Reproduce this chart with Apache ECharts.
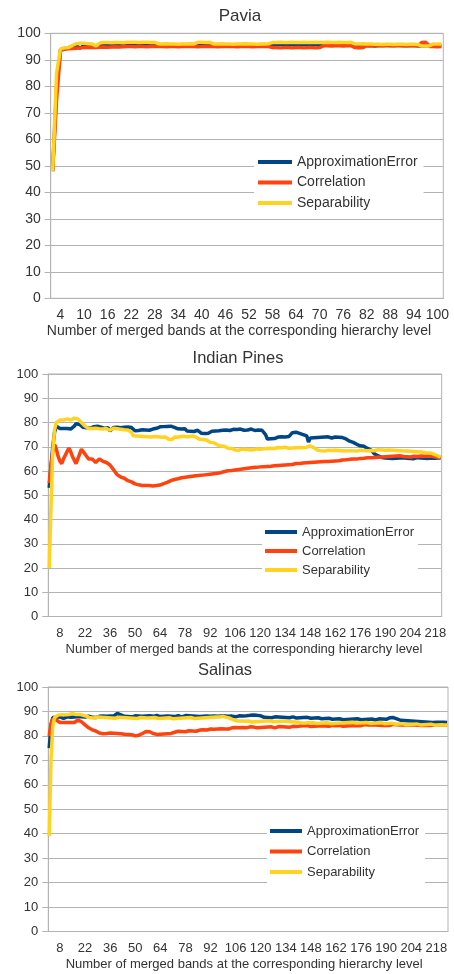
<!DOCTYPE html>
<html>
<head>
<meta charset="utf-8">
<script src="https://cdn.jsdelivr.net/npm/echarts@6/dist/echarts.min.js"></script>
<style>
    html, body { margin: 0; padding: 0; background: #fff; }
    #main { width: 454px; height: 974px; }
</style>
</head>
<body>
<div id="main"></div>
<script>
// category helper: band counts 2..n
function range(a, b) {
    var r = [];
    for (var i = a; i <= b; i++) r.push(String(i));
    return r;
}

var seriesNames = ['ApproximationError', 'Correlation', 'Separability'];
var colors = ['#004586', '#ff420e', '#ffd320'];
var axisName = 'Number of merged bands at the corresponding hierarchy level';

// ---------- Pavia (bands 2..101) ----------
var pavCats = range(2, 101);
var pavTicks = [4, 10, 16, 22, 28, 34, 40, 46, 52, 58, 64, 70, 76, 82, 88, 94, 100];
var pavAE = [
    48, 80, 93.8, 94.3, 94.6, 95.0, 95.3, 94.4, 95.4, 95.5,
    95.6, 95.2, 95.7, 95.8, 95.8, 95.7, 95.9, 95.8, 95.9, 96.0,
    95.9, 96.0, 95.9, 96.0, 95.8, 95.7, 95.6, 95.6, 95.5, 95.6,
    95.6, 95.5, 95.6, 95.5, 95.6, 95.5, 95.6, 95.9, 96.0, 96.0,
    95.9, 95.6, 95.6, 95.5, 95.6, 95.5, 95.6, 95.5, 95.6, 95.5,
    95.6, 95.5, 95.6, 95.5, 95.6, 95.5, 95.9, 96.0, 95.9, 96.0,
    95.9, 96.0, 95.9, 96.0, 95.9, 96.0, 95.9, 96.0, 95.9, 96.0,
    95.9, 96.0, 95.9, 96.0, 95.9, 96.0, 95.8, 95.6, 95.5, 95.4,
    95.4, 95.5, 95.2, 95.4, 95.5, 95.5, 95.4, 95.5, 95.5, 95.4,
    95.5, 95.4, 95.5, 95.3, 95.2, 95.3, 95.4, 95.5, 95.4, 95.3
];
var pavCorr = [
    48, 75, 93.5, 94.0, 94.2, 94.3, 94.4, 94.5, 94.6, 94.6,
    94.7, 94.6, 94.7, 94.8, 94.7, 94.8, 94.9, 94.8, 94.9, 95.0,
    95.0, 94.9, 95.0, 95.0, 94.9, 95.0, 95.0, 95.1, 95.0, 94.9,
    95.0, 95.0, 94.9, 95.0, 95.1, 95.0, 95.0, 94.9, 95.0, 95.0,
    95.1, 95.0, 94.9, 95.0, 95.0, 95.1, 95.0, 94.9, 95.0, 95.0,
    95.0, 94.9, 95.0, 95.1, 95.0, 95.0, 94.6, 94.6, 94.5, 94.6,
    94.6, 94.5, 94.6, 94.6, 94.5, 94.6, 94.6, 94.5, 94.6, 95.3,
    95.3, 95.2, 95.3, 95.3, 95.2, 95.3, 95.3, 94.6, 94.5, 94.6,
    95.3, 95.2, 95.3, 95.3, 95.2, 95.3, 95.3, 95.2, 95.3, 95.3,
    95.2, 95.3, 95.3, 95.2, 96.5, 96.6, 95.0, 95.0, 94.9, 95.0
];
var pavSep = [
    48, 85, 94.2, 94.5, 94.6, 95.4, 96.1, 96.2, 96.2, 96.1,
    96.0, 95.2, 96.3, 96.5, 96.5, 96.4, 96.5, 96.5, 96.4, 96.6,
    96.6, 96.6, 96.5, 96.6, 96.6, 96.5, 96.6, 96.0, 96.0, 96.1,
    96.0, 96.0, 95.9, 96.0, 96.0, 96.1, 96.0, 96.6, 96.6, 96.5,
    96.6, 96.0, 96.0, 96.1, 96.0, 96.0, 95.9, 96.0, 96.0, 96.1,
    96.0, 96.0, 95.9, 96.0, 96.0, 96.1, 96.5, 96.5, 96.6, 96.5,
    96.5, 96.6, 96.5, 96.5, 96.6, 96.5, 96.5, 96.6, 96.5, 96.5,
    96.6, 96.5, 96.5, 96.6, 96.5, 96.5, 96.6, 96.0, 96.0, 96.1,
    96.0, 96.0, 95.9, 95.9, 95.8, 95.9, 95.9, 95.8, 95.9, 95.9,
    95.8, 95.9, 95.9, 95.8, 95.2, 95.2, 95.3, 96.0, 96.0, 96.0
];

// ---------- Indian Pines (bands 2..221) ----------
var ipCats = range(2, 221);
var ipTicks = [8, 22, 36, 50, 64, 78, 92, 106, 120, 134, 148, 162, 176, 190, 204, 218];
var ipAE = [
    53, 62, 70, 76, 78.5, 78, 77.5, 78, 77.5, 77,
    77.5, 77.8, 77.3, 77.5, 78.5, 79.5, 79.8, 79.2, 78.5, 78,
    78.2, 77.8, 78.4, 77.6, 78, 78.3, 77.9, 78.5, 77.7, 78.1,
    78, 77.6, 78.2, 77.8, 76.5, 77.2, 77.9, 78.3, 78, 78.4,
    77.8, 78.2, 78, 77.7, 78.1, 78.3, 77.9, 77.5, 76.6, 76.4,
    76.7, 76.5, 77, 77.2, 76.9, 77.1, 76.8, 77, 77.3, 77.5,
    77.6, 77.4, 78.2, 78.5, 78.3, 78.6, 78.4, 78.2, 78.5, 78.3,
    78, 77.6, 77.4, 77.5, 77.3, 77.6, 77.4, 76.5, 76.7, 76.4,
    76.6, 76.3, 76.5, 76.8, 76.4, 75.6, 75.4, 75.5, 75.3, 75.6,
    75.5, 76.4, 76.7, 76.5, 76.9, 76.6, 77, 76.8, 76.5, 76.9,
    77, 76.7, 76.9, 77.2, 76.8, 77.1, 76.9, 77.3, 77, 76.8,
    77.2, 76.9, 77.1, 77.3, 77, 76.7, 77.1, 76.9, 77.2, 76.8,
    76.5, 75, 73.2, 73, 73.3, 73.6, 73.4, 73.8, 74, 73.7,
    74.1, 74.3, 74, 74.5, 74.2, 74.6, 75.8, 76.1, 76, 75.6,
    75.5, 75.2, 75, 74.8, 74.5, 72, 73.6, 73.9, 73.7, 74,
    73.8, 74.1, 73.9, 73.7, 74, 73.8, 74.1, 73.9, 73.6, 73.8,
    74, 73.7, 73.9, 73.6, 73.8, 73.5, 73.2, 72.5, 72.3, 72.1,
    71.8, 71.5, 71, 70.6, 70.4, 70.5, 70.2, 69.8, 69.3, 69,
    68.6, 67.8, 67, 66.5, 66.3, 65.8, 65.6, 65.9, 65.4, 65.7,
    65.3, 65.6, 65.2, 65.5, 65.3, 65.1, 65.4, 65.2, 65.5, 65.1,
    65.3, 65.6, 65.2, 65.4, 65.1, 65.3, 65.5, 65.2, 65.4, 65.6,
    65.3, 65.5, 65.2, 65.6, 65.4, 65.5, 65.3, 65.6, 65.5, 65.4
];
var ipCorr = [
    55, 62, 68, 71, 69, 66, 64, 63, 65, 66.5,
    68, 69.5, 68, 66, 64.5, 63, 63.5, 67, 69, 68,
    67, 66, 65, 65.5, 65, 64.5, 63.5, 64, 65, 64.5,
    64, 63.8, 63.5, 63, 62.5, 61.5, 60.5, 59.5, 58.5, 58,
    57.5, 57.2, 57, 56.5, 56, 55.7, 55.5, 55, 54.7, 54.5,
    54.3, 54.2, 54, 54.2, 54, 53.8, 54, 54.3, 53.8, 53.6,
    54, 53.8, 54.2, 54.5, 54.8, 55, 55.3, 55.6, 56, 56.2,
    56.5, 56.7, 56.8, 57, 57.2, 57.1, 57.4, 57.3, 57.6, 57.5,
    57.8, 57.7, 58, 57.9, 58.2, 58.4, 58.3, 58.6, 58.5, 58.8,
    58.7, 59, 58.9, 59.2, 59.1, 59.4, 59.3, 59.6, 59.8, 60,
    60.1, 60.3, 60.2, 60.5, 60.4, 60.7, 60.6, 60.9, 60.8, 61.1,
    61, 61.3, 61.2, 61.5, 61.4, 61.6, 61.5, 61.8, 61.7, 61.9,
    61.8, 62, 61.9, 62.1, 62, 62.3, 62.2, 62.4, 62.3, 62.5,
    62.4, 62.6, 62.5, 62.7, 62.6, 62.8, 62.7, 62.9, 63.1, 62.9,
    63.1, 63, 63.3, 63.2, 63.4, 63.3, 63.5, 63.4, 63.6, 63.5,
    63.7, 63.6, 63.8, 63.7, 63.9, 64, 63.9, 64.1, 64, 64.2,
    64.1, 64.3, 64.2, 64.4, 64.5, 64.4, 64.6, 64.5, 64.8, 64.7,
    64.9, 65, 64.9, 65.1, 65.2, 65.1, 65.3, 65.4, 65.5, 65.6,
    65.5, 65.7, 65.6, 65.8, 65.7, 65.9, 65.8, 66, 65.9, 66.1,
    66, 66.2, 66.1, 66.3, 66.2, 66.1, 66.3, 66.2, 66, 66.1,
    65.9, 66, 65.8, 65.9, 66.1, 65.8, 66, 65.9, 66.2, 66,
    66.1, 65.9, 66.2, 66.4, 66.1, 66.3, 65.8, 66, 65.7, 65.5
];
var ipSep = [
    20, 45, 68, 77, 80, 80.5, 81, 81.2, 81, 81.3,
    81.5, 81.2, 81, 81.3, 81.8, 82, 81.5, 81, 80, 79.5,
    78.5, 78, 77.5, 77.3, 77.5, 77.2, 77.6, 77, 77.4, 77.8,
    77.3, 77, 77.5, 77.2, 76.8, 77.3, 77.6, 77.1, 77.4, 77.7,
    77.2, 77.5, 77, 77.3, 76.9, 77.2, 76, 74.5, 74.2, 74.4,
    74.1, 74.3, 74, 74.2, 74.5, 74.1, 74.3, 74, 74.4, 74.2,
    74.5, 74.1, 74.3, 73.9, 74.2, 74, 74.3, 73, 72.8, 73.1,
    74, 74.2, 73.9, 74.1, 74.3, 74.5, 74.2, 74.4, 74.1, 74.3,
    74.5, 74.2, 74, 73.3, 73.1, 73.4, 73, 73.2, 72.8, 72.1,
    71.8, 72, 71.7, 72, 70.8, 70.5, 70.3, 70.6, 70.2, 69.6,
    69.4, 69.5, 69.3, 68.9, 68.7, 68.9, 68.6, 68.8, 69, 68.7,
    68.9, 68.6, 68.8, 69, 68.7, 68.9, 69.1, 68.8, 69, 68.9,
    69.2, 69, 69.3, 69.5, 69.4, 69.6, 69.3, 69.5, 69.7, 69.4,
    69.6, 69.5, 69.8, 69.6, 69.4, 69.7, 69.5, 69.8, 69.6, 69.4,
    69.7, 69.5, 69.6, 69.4, 69.8, 70.2, 70.4, 70.1, 69.6, 69.3,
    68.6, 68.2, 68.3, 68.5, 68.2, 68.4, 68.6, 68.3, 68.5, 68.4,
    68.6, 68.3, 68.5, 68.7, 68.4, 68.6, 68.3, 68.5, 68.4, 68.6,
    68.3, 68.5, 68.2, 68.4, 68.6, 68.3, 68.5, 68.7, 68.4, 68.6,
    68.5, 68.7, 68.4, 68.6, 68.8, 68.5, 68.7, 68.4, 68.6, 68.5,
    68.7, 68.4, 68.6, 68.3, 68.5, 68.2, 68.4, 68.1, 68.3, 68,
    68.2, 67.9, 68.1, 67.8, 68, 67.7, 67.9, 68.1, 67.8, 67.6,
    67.5, 67.2, 67.4, 67, 67.3, 66.8, 66.6, 66.3, 66, 65.8
];

// ---------- Salinas (bands 2..224) ----------
var saCats = range(2, 224);
var saTicks = [8, 22, 36, 50, 64, 78, 92, 106, 120, 134, 148, 162, 176, 190, 204, 218];
var saAE = [
    75, 84, 87.5, 88, 87.6, 87.3, 87.8, 87.5, 87.2, 87.6,
    87.8, 87.4, 87.6, 88, 87.7, 87.5, 87.9, 88.1, 87.8, 88,
    87.7, 87.9, 88.1, 87.8, 87.6, 87.3, 87.5, 87.8, 88, 87.9,
    88.1, 87.8, 88, 88.3, 88.1, 88.4, 88.2, 88.6, 89.2, 89,
    88.6, 88.2, 88, 88.3, 87.9, 88.1, 87.8, 88, 88.2, 87.9,
    88.1, 88.3, 88, 87.8, 88.1, 88.4, 88.2, 87.9, 88, 88.2,
    88.4, 88.1, 87.9, 88.2, 88, 88.3, 88.1, 87.8, 88, 88.2,
    87.9, 88.1, 88.3, 88, 87.8, 88.1, 88.3, 88, 88.2, 87.9,
    88.1, 88.3, 88, 88.2, 87.9, 88.1, 88, 88.3, 88.1, 87.9,
    88, 88.2, 88.1, 87.8, 88, 88.2, 88.1, 87.9, 88.1, 88.3,
    88, 87.9, 88.1, 88, 87.8, 88, 88.2, 87.9, 88.1, 88,
    88.2, 88.1, 88.4, 88.6, 88.5, 88.7, 88.4, 88.6, 88.2, 87.8,
    87.6, 87.8, 87.5, 87.7, 87.4, 87.6, 87.8, 87.5, 87.7, 87.4,
    87.6, 87.3, 87.5, 87.7, 87.4, 87.6, 87.8, 87.5, 87.3, 87.6,
    87.4, 87.7, 87.5, 87.3, 87.6, 87.4, 87.2, 87.5, 87.3, 87.1,
    87.4, 87.2, 87, 87.3, 87.1, 86.9, 87.2, 87, 86.8, 87.1,
    86.9, 86.7, 87, 86.8, 86.6, 86.9, 86.7, 87, 86.8, 86.6,
    86.9, 86.7, 87, 86.8, 86.6, 86.9, 86.7, 86.5, 86.8, 86.6,
    86.9, 86.7, 86.5, 86.8, 87, 86.7, 86.9, 86.6, 86.8, 87.1,
    87.4, 87.6, 87.5, 87.3, 87, 86.6, 86.4, 86.6, 86.3, 86.5,
    86.2, 86.4, 86.1, 86.3, 86, 86.2, 85.9, 86.1, 85.8, 86,
    85.7, 85.9, 85.6, 85.8, 85.5, 85.7, 85.6, 85.4, 85.6, 85.5,
    85.6, 85.4, 85.5
];
var saCorr = [
    80, 85, 87, 86.8, 86.5, 86, 85.5, 85.3, 85.5, 85.2,
    85.5, 85.8, 85.5, 85.2, 85.5, 86, 86.5, 86.3, 85.8, 85.3,
    84.5, 84, 83.3, 82.8, 82.5, 82.2, 82, 81.5, 81.2, 81.4,
    80.9, 81.3, 81, 80.8, 81.2, 81.5, 81.1, 80.8, 81, 81.3,
    80.9, 81.1, 80.7, 81, 80.6, 80.4, 80.5, 80.2, 80, 80.1,
    80.3, 80.6, 81, 81.5, 81.8, 82, 81.7, 81.3, 81, 80.8,
    80.6, 80.9, 80.7, 81, 80.8, 80.6, 80.9, 80.7, 81, 81.2,
    81.5, 81.7, 81.9, 81.6, 81.8, 82, 81.7, 81.9, 82.1, 81.8,
    82, 82.2, 81.9, 82.1, 82.4, 82.6, 82.5, 82.7, 82.4, 82.6,
    82.8, 82.6, 82.7, 82.5, 82.8, 82.6, 82.9, 82.7, 82.8, 83,
    82.8, 83.1, 83.3, 83.5, 83.4, 83.6, 83.3, 83.5, 83.4, 83.6,
    83.3, 83.5, 83.7, 83.4, 83.6, 83.5, 83.3, 83.6, 83.4, 83.7,
    83.5, 83.3, 83.6, 83.4, 83.7, 83.5, 83.3, 83.6, 83.8, 83.5,
    83.7, 83.4, 83.6, 83.8, 83.5, 83.7, 83.9, 83.6, 83.8, 83.7,
    84, 83.8, 84.1, 83.9, 84.2, 84, 83.8, 84.1, 83.9, 84.2,
    84, 83.8, 84.1, 84.3, 84, 84.2, 83.9, 84.1, 84.3, 84,
    84.2, 84, 84.3, 84.1, 83.9, 84.2, 84, 84.3, 84.1, 84.4,
    84.2, 84, 84.3, 84.5, 84.2, 84.4, 84.6, 84.3, 84.5, 84.4,
    84.6, 84.3, 84.5, 84.7, 84.4, 84.6, 84.3, 84.5, 84.4, 84.6,
    84.3, 84.5, 84.7, 84.4, 84.6, 84.3, 84.5, 84.4, 84.6, 84.3,
    84.5, 84.4, 84.6, 84.3, 84.5, 84.7, 84.4, 84.6, 84.3, 84.5,
    84.4, 84.6, 84.3, 84.5, 84.4, 84.6, 84.5, 84.3, 84.5, 84.4,
    84.6, 84.5, 84.4
];
var saSep = [
    39, 70, 84, 87.5, 88.3, 88.5, 88.4, 88.7, 88.5, 88.6,
    88.4, 88.7, 88.9, 89.2, 89, 88.7, 88.5, 88.8, 88.6, 88.4,
    88.2, 88, 87.6, 87.4, 87.6, 87.3, 87.5, 87.7, 87.4, 87.6,
    87.3, 87.5, 87.2, 87.4, 87.6, 87.3, 87.5, 87.2, 87.4, 87.6,
    87.3, 87.5, 87.2, 87.4, 87.1, 87.3, 87.5, 87.2, 87.4, 87.1,
    87.3, 87.5, 87.2, 87.4, 87.6, 87.3, 87.1, 87.4, 87.2, 87.5,
    87.3, 87.1, 87.4, 87.2, 87.5, 87.3, 87.1, 87.4, 87.2, 87,
    87.3, 87.1, 87.4, 87.2, 87, 87.3, 87.1, 87.4, 87.2, 87.5,
    87.3, 87.1, 87.4, 87.2, 87.5, 87.3, 87.1, 87.4, 87.2, 87.5,
    87.3, 87.6, 87.4, 87.7, 87.9, 87.7, 87.9, 88, 87.8, 87.6,
    87.4, 87.2, 86.8, 86.5, 86.3, 86.1, 85.9, 86.1, 85.8, 86,
    85.8, 86.1, 85.9, 85.7, 86, 85.8, 86.1, 85.9, 85.7, 86,
    85.8, 86.1, 85.9, 86.2, 86, 85.8, 86.1, 85.9, 86.2, 86,
    85.8, 86, 85.7, 85.9, 85.6, 85.8, 85.5, 85.7, 85.4, 85.6,
    85.4, 85.2, 85.5, 85.3, 85.1, 85.4, 85.2, 85.5, 85.3, 85.1,
    85.4, 85.2, 85.5, 85.3, 85.1, 85.4, 85.2, 85, 85.3, 85.1,
    85.4, 85.2, 85.5, 85.3, 85.1, 85.4, 85.2, 85.5, 85.3, 85.6,
    85.4, 85.2, 85.5, 85.3, 85.1, 85.4, 85.2, 85.5, 85.3, 85.1,
    85.4, 85.2, 85, 85.3, 85.1, 85.4, 85.2, 85, 85.3, 85.1,
    84.9, 85.2, 85, 84.8, 85.1, 84.9, 84.7, 85, 84.8, 84.6,
    84.9, 84.7, 84.5, 84.8, 84.6, 84.9, 84.7, 84.5, 84.8, 84.6,
    84.4, 84.7, 84.5, 84.8, 84.6, 84.4, 84.7, 84.5, 84.3, 84.6,
    84.5, 84.4, 84.6
];

// layout of the three stacked panels (pixels)
var panels = [
    {
        title: 'Pavia', titleX: 240, titleY: 8, titleSize: 17,
        grid: { left: 50.7, top: 33.3, right: 10.7, height: 265 },
        cats: pavCats, ticks: pavTicks, fs: 14, namePad: [0, 16, 0, 0],
        legend: { left: 254, top: 150, itemWidth: 34, gap: 6.5, padding: [5, 6, 5, 4] },
        data: [pavAE, pavCorr, pavSep]
    },
    {
        title: 'Indian Pines', titleX: 238, titleY: 350, titleSize: 16.5,
        grid: { left: 48.3, top: 374, right: 12.3, height: 242.5 },
        cats: ipCats, ticks: ipTicks, fs: 13, namePad: [0, 2, 0, 0],
        legend: { left: 262, top: 520.5, itemWidth: 32, gap: 6, padding: [5, 4, 6, 3] },
        data: [ipAE, ipCorr, ipSep]
    },
    {
        title: 'Salinas', titleX: 225, titleY: 662, titleSize: 16.5,
        grid: { left: 48.3, top: 687, right: 6, height: 244.5 },
        cats: saCats, ticks: saTicks, fs: 13, namePad: [0, 8, 0, 0],
        legend: { left: 267, top: 819.5, itemWidth: 32, gap: 7.5, padding: [5, 6, 6, 3] },
        data: [saAE, saCorr, saSep]
    }
];

var option = {
    animation: false,
    backgroundColor: '#fff',
    textStyle: { fontFamily: 'Liberation Sans, Arial, sans-serif' },
    title: [], grid: [], xAxis: [], yAxis: [], legend: [], series: []
};

panels.forEach(function (p, i) {
    option.title.push({
        text: p.title, left: p.titleX, top: p.titleY, textAlign: 'center', padding: 0,
        textStyle: { fontSize: p.titleSize, fontWeight: 'normal', color: '#333' }
    });
    option.grid.push({
        left: p.grid.left, top: p.grid.top, right: p.grid.right, height: p.grid.height,
        show: true, borderColor: '#b3b3b3', borderWidth: 1
    });
    option.xAxis.push({
        type: 'category', gridIndex: i, data: p.cats, boundaryGap: true,
        axisLine: { lineStyle: { color: '#b3b3b3' } },
        axisTick: { interval: 0, length: 5, lineStyle: { color: '#b3b3b3' } },
        axisLabel: {
            // only the listed band numbers get a label
            interval: (function (ticks) {
                return function (idx, val) { return ticks.indexOf(+val) >= 0; };
            })(p.ticks),
            fontSize: p.fs, color: '#333', margin: 10
        },
        splitLine: { show: false },
        name: axisName, nameLocation: 'middle', nameGap: 26,
        nameTextStyle: { fontSize: p.fs, color: '#333', padding: p.namePad }
    });
    option.yAxis.push({
        type: 'value', gridIndex: i, min: 0, max: 100, interval: 10,
        axisLine: { show: true, lineStyle: { color: '#b3b3b3' } },
        axisTick: { show: true, length: 6, lineStyle: { color: '#b3b3b3' } },
        axisLabel: { fontSize: p.fs, color: '#333', margin: 10 },
        splitLine: { lineStyle: { color: '#b3b3b3' } }
    });
    option.legend.push({
        data: seriesNames, orient: 'vertical', left: p.legend.left, top: p.legend.top,
        icon: 'rect', itemWidth: p.legend.itemWidth, itemHeight: 4, itemGap: p.legend.gap,
        padding: p.legend.padding, backgroundColor: '#fff',
        textStyle: { fontSize: p.fs, color: '#333' }
    });
    for (var k = 0; k < 3; k++) {
        option.series.push({
            name: seriesNames[k], type: 'line', xAxisIndex: i, yAxisIndex: i,
            data: p.data[k], symbol: 'none', showSymbol: false,
            color: colors[k], lineStyle: { width: 3.5, color: colors[k] }
        });
    }
});

var myChart = echarts.init(document.getElementById('main'), null, { renderer: 'canvas' });
myChart.setOption(option);
</script>
</body>
</html>
